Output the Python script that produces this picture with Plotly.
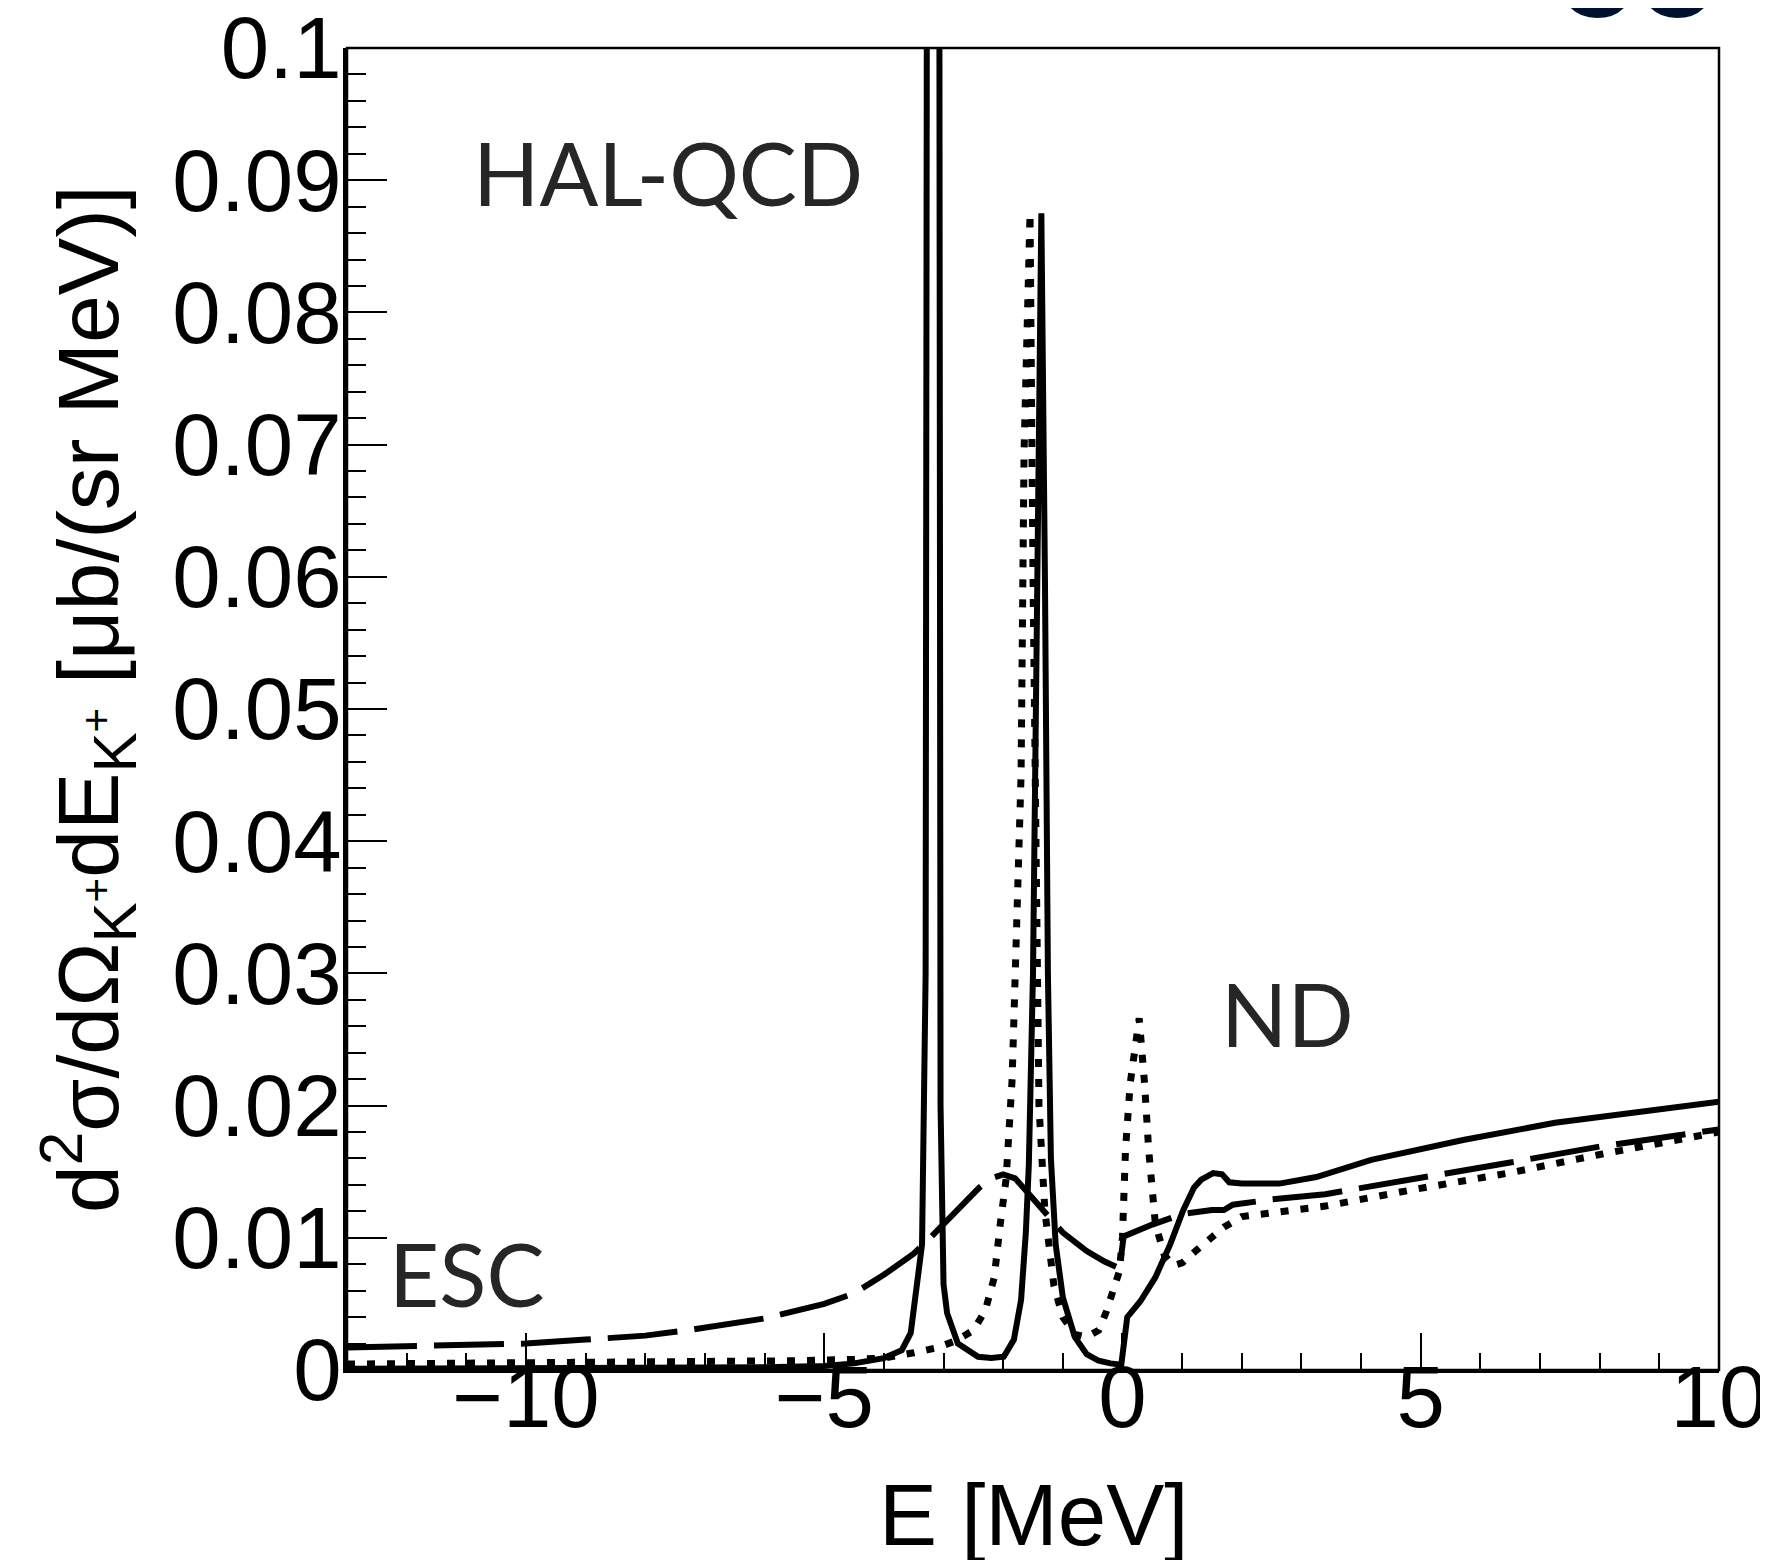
import plotly.graph_objects as go

# ---- data ----
x_solid = [-13, -9, -6, -5, -4.5, -4.0, -3.7, -3.55, -3.45, -3.36, -3.3, -3.27, -3.17, -3.08, -3.05,
           -3.0, -2.94, -2.76, -2.42, -2.2, -1.99, -1.82, -1.7, -1.62, -1.57, -1.5, -1.42, -1.36,
           -1.30, -1.25, -1.2, -1.12, -1.0, -0.8, -0.6, -0.4, -0.2, -0.02, 0.08, 0.3, 0.55, 0.8,
           1.02, 1.2, 1.32, 1.52, 1.67, 1.79, 2.0, 2.63, 3.25, 4.17, 5.71, 7.25, 10]
y_solid = [0.0001, 0.0001, 0.0002, 0.0003, 0.0005, 0.0009, 0.0015, 0.0028, 0.006, 0.0095, 0.03, 0.15,
           0.5, 0.15, 0.02, 0.0065, 0.0043, 0.002, 0.001, 0.0009, 0.001, 0.0023, 0.0053, 0.0104,
           0.0155, 0.03, 0.06, 0.0875, 0.06, 0.03, 0.016, 0.0095, 0.0055, 0.0025, 0.0012, 0.0007,
           0.0005, 0.0004, 0.0040, 0.0052, 0.0070, 0.0095, 0.0121, 0.0138, 0.0144, 0.0149, 0.0148,
           0.0142, 0.0141, 0.0141, 0.0146, 0.0159, 0.0174, 0.0187, 0.0203]

x_dashed = [-13, -12, -11, -10, -9, -8, -7.3, -6, -5, -4.5, -4, -3.5, -3.2, -2.8, -2.4, -2.2, -2.0,
            -1.8, -1.5, -1.2, -1.0, -0.6, -0.3, -0.05, 0.02, 0.5, 1.0, 1.5, 1.7, 1.85, 2.5, 3.4,
            5, 6.5, 8, 10]
y_dashed = [0.0017, 0.0018, 0.0019, 0.0020, 0.0023, 0.0026, 0.0030, 0.0039, 0.0050, 0.0058, 0.0072,
            0.0088, 0.0101, 0.0120, 0.0138, 0.0145, 0.0148, 0.0145, 0.0130, 0.0115, 0.0104, 0.0090,
            0.0082, 0.0077, 0.0101, 0.0110, 0.0118, 0.0121, 0.0121, 0.0125, 0.0129, 0.0133, 0.0145,
            0.0157, 0.0169, 0.0182]

x_dotted = [-13, -11, -9, -7, -5.5, -4.5, -4, -3.5, -3.1, -2.8, -2.5, -2.3, -2.15, -2.05, -1.95,
            -1.85, -1.75, -1.7, -1.65, -1.6, -1.55, -1.5, -1.45, -1.4, -1.3, -1.15, -1.0, -0.8,
            -0.6, -0.4, -0.28, -0.15, -0.05, 0.0, 0.05, 0.13, 0.28, 0.37, 0.44, 0.55, 0.7, 0.85,
            1.0, 1.25, 1.5, 1.7, 2.0, 2.5, 3.4, 4.94, 6.48, 8.0, 10]
y_dotted = [0.00045, 0.0005, 0.00055, 0.0006, 0.0007, 0.0008, 0.0009, 0.0013, 0.0017, 0.0022, 0.003,
            0.0045, 0.007, 0.011, 0.0145, 0.022, 0.035, 0.045, 0.0695, 0.082, 0.0875, 0.06, 0.035,
            0.02, 0.012, 0.0064, 0.004, 0.0027, 0.0025, 0.003, 0.0043, 0.006, 0.0075, 0.0101, 0.0166,
            0.0217, 0.0266, 0.0217, 0.0166, 0.0111, 0.0087, 0.0079, 0.0081, 0.0091, 0.0100, 0.0108,
            0.0116, 0.0119, 0.0124, 0.0137, 0.0149, 0.0163, 0.0180]

x_range = [-13, 10]
y_range = [0, 0.1000001]
x_tickvals = [-10, -5, 0, 5, 10]
x_ticktext = ["\u221210", "\u22125", "0", "5", "10"]
y_tickvals = [0, 0.01, 0.02, 0.03, 0.04, 0.05, 0.06, 0.07, 0.08, 0.09, 0.1]
y_ticktext = ["0", "0.01", "0.02", "0.03", "0.04", "0.05", "0.06", "0.07", "0.08", "0.09", "0.1"]

labels = ["HAL-QCD", "ND", "ESC"]

# ---- geometry (page pixels; the page body adds an 8 px offset) ----
OFF = 8
W, H = 1768 - OFF, 1560 - OFF
PL, PR, PT, PB = 347, 1719, 48, 1370          # plot box in page pixels
L, R, T, B = PL - OFF, PR - OFF, PT - OFF, PB - OFF


def px2x(px):
    return (px - PL) / (PR - PL)


def py2y(py):
    return (PB - py) / (PB - PT)


fig = go.Figure()
fig.add_trace(go.Scatter(x=x_dashed, y=y_dashed, mode="lines",
                         line=dict(color="black", width=6, dash="70px,17px"), name="ESC"))
fig.add_trace(go.Scatter(x=x_dotted, y=y_dotted, mode="lines",
                         line=dict(color="black", width=7, dash="8px,12px"), name="ND"))
fig.add_trace(go.Scatter(x=x_solid, y=y_solid, mode="lines",
                         line=dict(color="black", width=6), name="HAL-QCD"))

tickfont = dict(family="Liberation Sans, Arial, sans-serif", size=87, color="black")

fig.update_layout(
    width=W, height=H,
    margin=dict(l=L, r=W - R, t=T, b=H - B, autoexpand=False),
    paper_bgcolor="white", plot_bgcolor="white",
    showlegend=False,
    xaxis=dict(range=x_range, tickvals=x_tickvals, ticktext=x_ticktext,
               ticks="inside", ticklen=37, tickwidth=2, tickcolor="black",
               minor=dict(ticks="inside", ticklen=17, tickwidth=2, tickcolor="black", dtick=1, tick0=0),
               showline=True, linewidth=3, linecolor="black", mirror=False, automargin=False,
               showgrid=False, zeroline=False, tickfont=tickfont, ticklabelstandoff=-50,
               ticklabeloverflow="allow"),
    yaxis=dict(range=y_range, tickvals=y_tickvals, ticktext=y_ticktext,
               ticks="inside", ticklen=40, tickwidth=2, tickcolor="black",
               minor=dict(ticks="inside", ticklen=19, tickwidth=2, tickcolor="black", dtick=0.002, tick0=0),
               showline=True, linewidth=4, linecolor="black", mirror=False, automargin=False,
               showgrid=False, zeroline=False, tickfont=tickfont, ticklabelstandoff=-16,
               ticklabeloverflow="allow"),
)

# frame (top and right)
fig.add_shape(type="rect", xref="paper", yref="paper", x0=0, x1=1, y0=0, y1=1,
              line=dict(color="black", width=2.5), layer="above")

annfont = dict(family="Lato, sans-serif", size=87, color="#262626")
fig.add_annotation(x=px2x(668), y=py2y(172), xref="paper", yref="paper", text=labels[0],
                   showarrow=False, font=annfont, xanchor="center", yanchor="middle")
fig.add_annotation(x=px2x(1287), y=py2y(1013), xref="paper", yref="paper", text=labels[1],
                   showarrow=False, font=annfont, xanchor="center", yanchor="middle")
fig.add_annotation(x=px2x(467), y=py2y(1273), xref="paper", yref="paper", text=labels[2],
                   showarrow=False, font=annfont, xanchor="center", yanchor="middle")

# axis titles
titlefont = dict(family="Liberation Sans, Arial, sans-serif", size=87, color="black")
fig.add_annotation(x=px2x(1033), y=py2y(1514), xref="paper", yref="paper", text="E [MeV]",
                   showarrow=False, font=titlefont, xanchor="center", yanchor="middle")
fig.add_annotation(x=px2x(88), y=py2y(699), xref="paper", yref="paper",
                   text="d<sup>2</sup>σ/dΩ<sub>K<sup>+</sup></sub>dE<sub>K<sup>+</sup></sub> [μb/(sr MeV)]",
                   textangle=-90, showarrow=False,
                   font=dict(family="Liberation Sans, Arial, sans-serif", size=86, color="black"),
                   xanchor="center", yanchor="middle")

# cropped navy glyphs at the top right
navy = dict(family="Liberation Sans, Arial, sans-serif", size=135, color="#00112e")
fig.add_annotation(x=px2x(1597), y=py2y(48), xref="paper", yref="paper", text="<b>o</b>",
                   showarrow=False, font=navy, xanchor="center", yanchor="bottom")
fig.add_annotation(x=px2x(1677), y=py2y(48), xref="paper", yref="paper", text="<b>o</b>",
                   showarrow=False, font=navy, xanchor="center", yanchor="bottom")

fig.write_html("out.html")
